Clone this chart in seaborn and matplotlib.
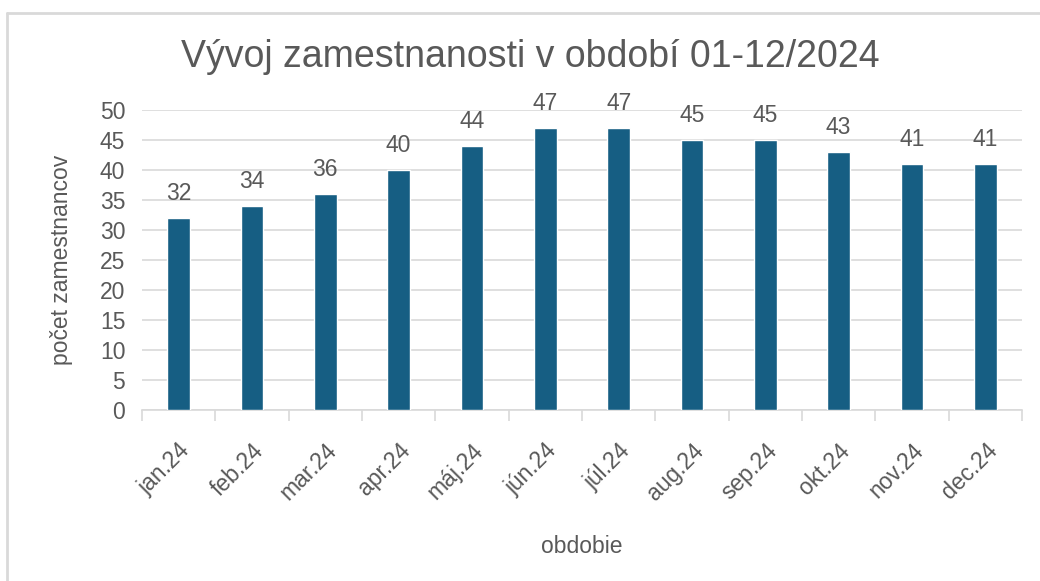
import matplotlib
matplotlib.use("Agg")
import matplotlib.pyplot as plt
from matplotlib.lines import Line2D
import seaborn as sns
import pandas as pd
import numpy as np

months = ["jan.24", "feb.24", "mar.24", "apr.24", "máj.24", "jún.24",
          "júl.24", "aug.24", "sep.24", "okt.24", "nov.24", "dec.24"]
employees = [32, 34, 36, 40, 44, 47, 47, 45, 45, 43, 41, 41]
y_ticks = [0, 5, 10, 15, 20, 25, 30, 35, 40, 45, 50]

title = "Vývoj zamestnanosti v období 01-12/2024"
x_label = "obdobie"
y_label = "počet zamestnancov"

bar_color = "#165E83"
text_color = "#595959"
grid_color = "#D9D9D9"

sns.set_theme(style="white")
plt.rcParams["font.family"] = ["Liberation Sans", "DejaVu Sans"]

df = pd.DataFrame({"obdobie": months, "pocet": employees})

fig = plt.figure(figsize=(10.4, 5.81), dpi=100)
ax = fig.add_axes([142/1040, 1-410/581, (1022-142)/1040, 300/581])

sns.barplot(data=df, x="obdobie", y="pocet", color=bar_color, width=0.31,
            saturation=1, ax=ax, zorder=3)

fs = 16.5
ax.set_ylim(0, 50)
ax.set_xlim(-0.5, len(months) - 0.5)
ax.set_yticks(y_ticks)
ax.yaxis.grid(True, color=grid_color, linewidth=1.2, zorder=0)
ax.set_axisbelow(True)
for s in ["top", "right", "left"]:
    ax.spines[s].set_visible(False)
ax.spines["bottom"].set_color(grid_color)
ax.spines["bottom"].set_linewidth(1.2)

ax.tick_params(axis="y", length=0, labelsize=fs, colors=text_color, pad=12)
ax.set_xticks(np.arange(len(months)))
ax.set_xticks(np.arange(len(months) + 1) - 0.5, minor=True)
ax.tick_params(axis="x", which="major", bottom=False, length=0, pad=21)
ax.tick_params(axis="x", which="minor", bottom=True, length=8, width=1.2,
               color=grid_color, direction="out")
ax.set_xticklabels(months, rotation=45, ha="right", rotation_mode="anchor",
                   fontsize=fs, color=text_color)

for c in ax.containers:
    ax.bar_label(c, labels=[str(v) for v in employees], padding=9,
                 fontsize=fs, color=text_color)

ax.set_xlabel(x_label, fontsize=fs, color=text_color, labelpad=22)
ax.set_ylabel(y_label, fontsize=fs, color=text_color, labelpad=19)
fig.text(530/1040, 1-57/581, title, ha="center", va="center",
         fontsize=27, color=text_color)

# chart frame (top and left edges visible)
fig.add_artist(Line2D([7/1040, 7/1040], [0, 1-13/581], transform=fig.transFigure,
                      color=grid_color, linewidth=2))
fig.add_artist(Line2D([7/1040, 1], [1-13/581, 1-13/581], transform=fig.transFigure,
                      color=grid_color, linewidth=2))

fig.savefig("out.png", dpi=100)
